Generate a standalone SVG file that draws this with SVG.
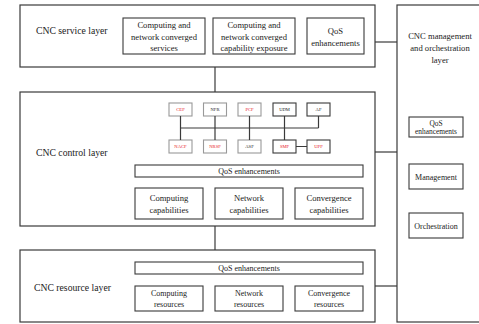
<svg xmlns="http://www.w3.org/2000/svg" width="479" height="324" viewBox="0 0 479 324" font-family="'Liberation Serif', 'Times New Roman', serif">
<style>
rect{fill:#fff;stroke:#3a3a3a;stroke-width:1.1}
.lay{stroke-width:1.2}
.lt{stroke:#999}
text{font-family:'Liberation Serif','Times New Roman',Times,serif;fill:#222;text-anchor:middle}
.lbl{font-size:9.7px;text-anchor:start}
.b{font-size:8.6px}
.m{font-size:8px}
.s{font-size:4.6px}
.r{fill:#e8141c}
line,path{stroke:#3a3a3a;stroke-width:1.2;fill:none}
</style>
<rect width="479" height="324" style="fill:#fff;stroke:none"/>
<g id="service-layer">
<rect class="lay" x="20" y="5" width="355" height="62"/>
<text class="lbl" x="36" y="34">CNC service layer</text>
</g>
<g id="service-computing">
<rect x="123" y="18" width="82" height="36"/>
<text class="b" x="164" y="28">Computing and</text>
<text class="b" x="164" y="40">network converged</text>
<text class="b" x="164" y="51">services</text>
</g>
<g id="service-exposure">
<rect x="213" y="18" width="82" height="36"/>
<text class="b" x="254" y="28">Computing and</text>
<text class="b" x="254" y="40">network converged</text>
<text class="b" x="254" y="51">capability exposure</text>
</g>
<g id="service-qos">
<rect x="307" y="18" width="57" height="36"/>
<text class="b" x="335.5" y="34">QoS</text>
<text class="b" x="335.5" y="46">enhancements</text>
</g>
<g id="control-layer">
<rect class="lay" x="20" y="92" width="355" height="134"/>
<text class="lbl" x="36" y="156">CNC control layer</text>
</g>
<g id="nf-cef"><rect class="lt" x="169" y="103" width="23" height="13"/><text class="s r" x="180.5" y="111.3">CEF</text></g>
<g id="nf-nfr"><rect class="lt" x="203.5" y="103" width="23" height="13"/><text class="s" x="215" y="111.3">NFR</text></g>
<g id="nf-pcf"><rect class="lt" x="238" y="103" width="23" height="13"/><text class="s r" x="249.5" y="111.3">PCF</text></g>
<g id="nf-udm"><rect x="273" y="103" width="23" height="13"/><text class="s" x="284.5" y="111.3">UDM</text></g>
<g id="nf-af"><rect x="307" y="103" width="23" height="13"/><text class="s" x="318.5" y="111.3">AF</text></g>
<g id="nf-nacf"><rect class="lt" x="169" y="140" width="23" height="13"/><text class="s r" x="180.5" y="148.3">NACF</text></g>
<g id="nf-nrsf"><rect class="lt" x="203.5" y="140" width="23" height="13"/><text class="s r" x="215" y="148.3">NRSF</text></g>
<g id="nf-asf"><rect class="lt" x="238" y="140" width="23" height="13"/><text class="s" x="249.5" y="148.3">ASF</text></g>
<g id="nf-smf"><rect x="273" y="140" width="23" height="13"/><text class="s r" x="284.5" y="148.3">SMF</text></g>
<g id="nf-upf"><rect x="307" y="140" width="23" height="13"/><text class="s r" x="318.5" y="148.3">UPF</text></g>
<g id="control-qos">
<rect x="135" y="165" width="228" height="12"/>
<text class="m" x="249" y="174">QoS enhancements</text>
</g>
<g id="cap-computing">
<rect x="135" y="188" width="68" height="31"/>
<text class="b" x="169" y="201">Computing</text>
<text class="b" x="169" y="213">capabilities</text>
</g>
<g id="cap-network">
<rect x="215" y="188" width="68" height="31"/>
<text class="b" x="249" y="201">Network</text>
<text class="b" x="249" y="213">capabilities</text>
</g>
<g id="cap-convergence">
<rect x="295" y="188" width="68" height="31"/>
<text class="b" x="329" y="201">Convergence</text>
<text class="b" x="329" y="213">capabilities</text>
</g>
<g id="resource-layer">
<rect class="lay" x="20" y="250" width="355" height="72"/>
<text class="lbl" x="34" y="291">CNC resource layer</text>
</g>
<g id="resource-qos">
<rect x="135" y="262" width="228" height="12"/>
<text class="m" x="249" y="271">QoS enhancements</text>
</g>
<g id="res-computing">
<rect x="135" y="286" width="68" height="25"/>
<text class="m" x="169" y="296">Computing</text>
<text class="m" x="169" y="307">resources</text>
</g>
<g id="res-network">
<rect x="215" y="286" width="68" height="25"/>
<text class="m" x="249" y="296">Network</text>
<text class="m" x="249" y="307">resources</text>
</g>
<g id="res-convergence">
<rect x="295" y="286" width="68" height="25"/>
<text class="m" x="329" y="296">Convergence</text>
<text class="m" x="329" y="307">resources</text>
</g>
<g id="mgmt-layer">
<rect class="lay" x="397" y="5" width="100" height="317"/>
<text class="b" x="440" y="39">CNC management</text>
<text class="b" x="440" y="51">and orchestration</text>
<text class="b" x="440" y="63">layer</text>
</g>
<g id="mgmt-qos">
<rect x="409" y="117" width="54" height="20"/>
<text class="m" x="436" y="125.5" style="font-size:7.4px">QoS</text>
<text class="m" x="436" y="134" style="font-size:7.4px">enhancements</text>
</g>
<g id="mgmt-management">
<rect x="409" y="164" width="54" height="25"/>
<text class="m" x="436" y="179.5">Management</text>
</g>
<g id="mgmt-orchestration">
<rect x="409" y="213" width="54" height="25"/>
<text class="m" x="436" y="228.5">Orchestration</text>
</g>
<g id="connectors">
<line x1="215" y1="67" x2="215" y2="92"/>
<line x1="215" y1="226" x2="215" y2="250"/>
<line x1="375" y1="42" x2="397" y2="42"/>
<line x1="375" y1="152" x2="397" y2="152"/>
<line x1="375" y1="286" x2="397" y2="286"/>
<path d="M180.5 116V140M215 116V140M249.5 116V140M284.5 116V140M318.5 116V128M180.5 128H318.5M296 146.5H307"/>
</g>
</svg>
